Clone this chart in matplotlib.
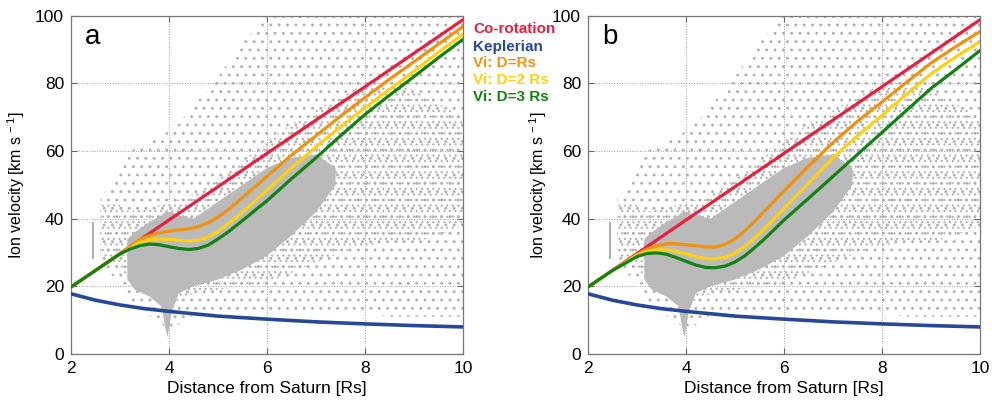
import matplotlib
matplotlib.use("Agg")
import matplotlib.pyplot as plt
import numpy as np

plt.rcParams['font.family'] = ['Liberation Sans', 'DejaVu Sans']
plt.rcParams['mathtext.default'] = 'regular'

# ---- model curves ----
curve_x = [2.0, 2.5, 3.0, 3.2, 3.4, 3.6, 3.8, 4.0, 4.2, 4.4, 4.6, 4.8, 5.0,
           5.2, 5.4, 5.6, 5.8, 6.0, 6.5, 7.0, 7.5, 8.0, 8.5, 9.0, 9.5, 10.0]

corot_x = [2.0, 4.0, 6.0, 8.0, 10.0]
corot_v = [19.8, 39.6, 59.3, 79.0, 98.8]

kepler_x = [2.0, 2.5, 3.0, 3.5, 4.0, 5.0, 6.0, 7.0, 8.0, 9.0, 10.0]
kepler_v = [17.8, 15.9, 14.5, 13.4, 12.6, 11.2, 10.3, 9.5, 8.9, 8.4, 8.0]

# panel a
vi1_a = [19.8, 24.7, 29.6, 31.6, 33.8, 35.0, 35.8, 36.3, 36.7, 37.0, 37.6, 38.8, 40.5,
         42.5, 45.0, 47.5, 50.0, 52.5, 58.8, 64.5, 70.3, 75.8, 81.2, 86.4, 91.6, 96.8]
vi2_a = [19.8, 24.7, 29.6, 31.3, 33.0, 33.8, 34.0, 33.9, 33.6, 33.4, 33.6, 34.6, 36.2,
         38.4, 40.8, 43.2, 45.8, 48.4, 55.0, 61.2, 67.2, 72.8, 78.2, 83.6, 89.2, 94.6]
vi3_a = [19.8, 24.7, 29.6, 31.0, 32.0, 32.5, 32.3, 31.7, 31.2, 30.9, 31.2, 32.2, 34.0,
         36.0, 38.3, 40.6, 43.0, 45.3, 51.8, 58.0, 64.5, 70.8, 76.5, 82.0, 87.6, 93.0]
# panel b
vi1_b = [19.8, 24.7, 29.4, 31.0, 32.0, 32.6, 32.6, 32.3, 32.0, 31.6, 31.6, 32.4, 34.0,
         36.4, 39.2, 42.2, 45.2, 48.2, 55.5, 62.5, 68.8, 74.5, 80.3, 86.0, 90.8, 95.3]
vi2_b = [19.8, 24.7, 29.2, 30.3, 30.8, 30.8, 30.3, 29.6, 28.8, 28.2, 28.1, 28.6, 29.8,
         31.8, 34.3, 37.0, 40.0, 43.0, 50.5, 58.0, 64.5, 70.5, 76.8, 82.8, 87.8, 92.3]
vi3_b = [19.8, 24.7, 28.8, 29.7, 29.9, 29.5, 28.5, 27.4, 26.3, 25.6, 25.5, 26.0, 27.2,
         29.0, 31.4, 34.0, 36.8, 39.6, 46.0, 52.5, 59.0, 65.5, 72.0, 78.5, 84.0, 89.7]

# ---- observed ion velocities: envelopes of the grey point cloud ----
cloud_x = [2.6, 2.8, 3.0, 3.2, 3.5, 3.8, 4.0, 4.3, 4.6, 5.0,
           5.5, 6.0, 6.5, 7.0, 7.5, 8.0, 8.5, 9.0, 9.5, 10.0]
sparse_lo = [26, 24, 20, 15, 12, 10, 6, 10, 12, 13, 13, 13, 12, 12, 12, 12, 11, 11, 11, 11]
sparse_hi = [46, 50, 55, 60, 62, 64, 66, 70, 75, 82, 92, 100, 100, 100, 100, 100, 100, 100, 100, 100]
medium_lo = [28, 27, 25, 22, 20, 16, 14, 17, 18, 19, 20, 21, 24, 27, 30, 32, 33, 33, 35, 38]
medium_hi = [44, 45, 44, 42, 43, 44, 45, 46, 48, 52, 57, 63, 68, 72, 76, 80, 80, 78, 74, 70]

dense_x = [3.15, 3.3, 3.6, 3.85, 3.92, 3.97, 4.05, 4.2, 4.5, 5.0, 5.5, 6.0, 6.5, 7.0, 7.4]
dense_lo = [22, 19, 17, 14, 8, 5, 12, 18, 20, 22, 25, 29, 35, 42, 50]
dense_hi = [34, 36, 39, 41, 42, 42, 42, 41, 40, 45, 50, 55, 58, 59, 55]

strip_x = [2.43, 2.47]
strip_lo = [28, 28]
strip_hi = [39, 39]

panels = [
    ('a', vi1_a, vi2_a, vi3_a),
    ('b', vi1_b, vi2_b, vi3_b),
]

c_red = '#e8203f'
c_blue = '#26479a'
c_orange = '#f0920c'
c_yellow = '#ffd10f'
c_green = '#118311'
c_grey = '#b0b0b0'

fig = plt.figure(figsize=(9.92, 4.05), dpi=100)
lefts = [71 / 992, 588 / 992]
ylab_x = [-0.112, -0.100]

for i, (tag, v1, v2, v3) in enumerate(panels):
    ax = fig.add_axes([lefts[i], 51 / 405, 392 / 992, 338.3 / 405])

    # grey point cloud (hatched envelopes)
    with plt.rc_context({'hatch.linewidth': 0.9}):
        ax.fill_between(cloud_x, sparse_lo, sparse_hi, facecolor='none',
                        edgecolor=c_grey, hatch='..', linewidth=0, zorder=1)
    with plt.rc_context({'hatch.linewidth': 0.8}):
        ax.fill_between(cloud_x, medium_lo, medium_hi, facecolor='none',
                        edgecolor=c_grey, hatch='...', linewidth=0, zorder=1)
    ax.fill_between(dense_x, dense_lo, dense_hi, facecolor='#bababa',
                    linewidth=0, zorder=1)
    ax.fill_between(strip_x, strip_lo, strip_hi, facecolor=c_grey,
                    linewidth=0, zorder=1)

    ax.plot(kepler_x, kepler_v, color=c_blue, lw=2.6, zorder=3)
    ax.plot(corot_x, corot_v, color=c_red, lw=2.3, zorder=3)
    ax.plot(curve_x, v1, color=c_orange, lw=2.3, zorder=4)
    ax.plot(curve_x, v2, color=c_yellow, lw=2.3, zorder=5)
    ax.plot(curve_x, v3, color=c_green, lw=2.3, zorder=6)

    ax.set_xlim(2, 10)
    ax.set_ylim(0, 100)
    ax.set_xticks([2, 4, 6, 8, 10])
    ax.set_yticks([0, 20, 40, 60, 80, 100])
    ax.grid(True, linestyle=':', color='#9a9a9a', lw=0.7)
    ax.set_axisbelow(True)
    ax.tick_params(direction='in', top=True, right=True, length=4,
                   color='#666666', labelsize=12.5, pad=5)
    for sp in ax.spines.values():
        sp.set_color('#777777')
        sp.set_linewidth(0.9)

    ax.set_xlabel('Distance from Saturn [Rs]', fontsize=12.5, labelpad=4)
    ax.set_ylabel('Ion velocity [km s$^{\\,-1}$]', fontsize=11.5)
    ax.yaxis.set_label_coords(ylab_x[i], 0.5)
    ax.text(2.29, 91.5, tag, fontsize=20, va='baseline', ha='left', zorder=7)

labels = ['Co-rotation', 'Keplerian', 'Vi: D=Rs', 'Vi: D=2 Rs', 'Vi: D=3 Rs']
label_colors = [c_red, c_blue, c_orange, c_yellow, c_green]
label_y = [29.3, 46.7, 62.7, 80.0, 96.7]
for lab, col, py in zip(labels, label_colors, label_y):
    fig.text(473 / 992, 1 - py / 405, lab, color=col, fontsize=11,
             fontweight='bold', va='center', ha='left')

fig.savefig('out.png', dpi=100)
